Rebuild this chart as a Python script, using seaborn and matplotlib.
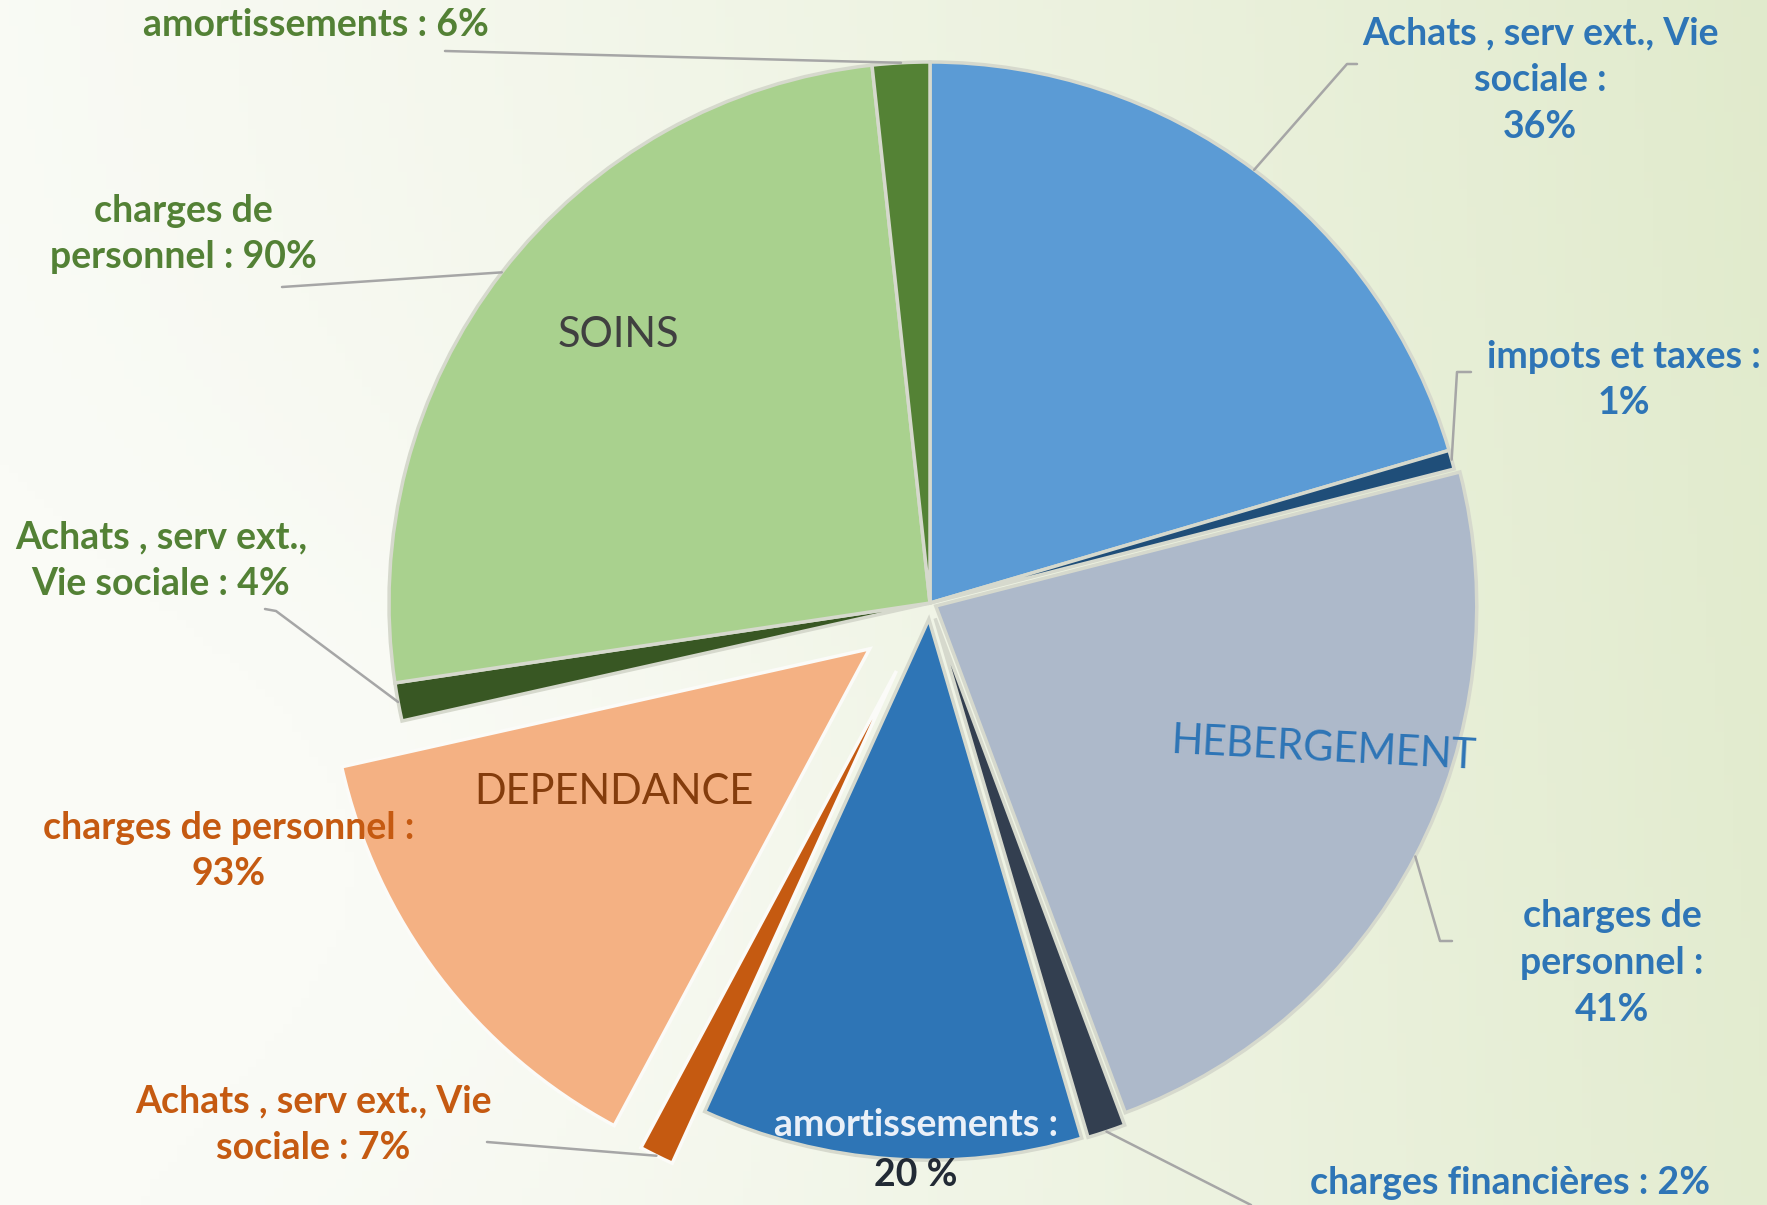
import numpy as np
import matplotlib
matplotlib.use("Agg")
import matplotlib.pyplot as plt
import seaborn as sns

# data: share of each budget section, then split inside it
sections = ["HEBERGEMENT", "DEPENDANCE", "SOINS"]
section_share = [56.8, 14.7, 28.5]

heb_items = ["Achats , serv ext., Vie\nsociale :\n36%", "impots et taxes :\n1%",
             "charges de\npersonnel :\n41%", "charges financières : 2%",
             "amortissements :"]
heb_pct = [36, 1, 41, 2, 20]
dep_items = ["Achats , serv ext., Vie\nsociale : 7%", "charges de personnel :\n93%"]
dep_pct = [7, 93]
soins_items = ["Achats , serv ext.,\nVie sociale : 4%", "charges de\npersonnel : 90%",
               "amortissements : 6%"]
soins_pct = [4, 90, 6]

heb_colors = ["#5B9BD5", "#1F4E79", "#ADB9CA", "#333F50", "#2E75B6"]
dep_colors = ["#C55A11", "#F4B183"]
soins_colors = ["#385723", "#A9D18E", "#548235"]

sns.set_theme(style="white")
plt.rcParams["font.family"] = ["Lato", "DejaVu Sans"]

W, H = 1767, 1205
fig = plt.figure(figsize=(W / 100, H / 100), dpi=100)
ax = fig.add_axes([0, 0, 1, 1])

# soft green background: greener to the right, almost white lower left
gx, gy = np.meshgrid(np.linspace(0, 1, 200), np.linspace(0, 1, 140))
t = 0.9 * gx + 0.08 * (1 - gy) - 0.2 * np.exp(-((gx - 0.2) ** 2 + (gy - 0.7) ** 2) / 0.1)
t = np.clip(t, 0, 1) ** 1.3
c0 = np.array([250, 251, 246]) / 255
c1 = np.array([224, 234, 203]) / 255
bg = c0[None, None, :] * (1 - t[..., None]) + c1[None, None, :] * t[..., None]
ax.imshow(bg, extent=(0, W, 0, H), origin="upper", aspect="auto", zorder=0)

sizes = ([p * section_share[0] / 100 for p in heb_pct]
         + [p * section_share[1] / 100 for p in dep_pct]
         + [p * section_share[2] / 100 for p in soins_pct])
colors = heb_colors + dep_colors + soins_colors

cx, cy, R = 930, H - 603, 541
# pie() takes explode in data units, so scale by the radius
explode = [e * R for e in [0, 0, 0.012, 0.03, 0.03, 0.14, 0.14, 0, 0, 0]]
wedges, _ = ax.pie(sizes, colors=colors, explode=explode, startangle=90,
                   counterclock=False, center=(cx, cy), radius=R,
                   wedgeprops=dict(edgecolor="#D6D9CD", linewidth=2.5),
                   frame=True)
for w in wedges[5:7]:
    w.set_edgecolor("#FBFBF8")
ax.set_xlim(0, W)
ax.set_ylim(0, H)
ax.set_aspect("equal")
ax.axis("off")


def img(x, y):
    return x, H - y


def anchor(w):
    a = np.deg2rad((w.theta1 + w.theta2) / 2)
    return w.center[0] + w.r * np.cos(a), w.center[1] + w.r * np.sin(a)


green, blue, orange = "#538135", "#2E75B6", "#C55A11"
lab = dict(fontsize=27, fontweight="bold", ha="center", va="center", linespacing=1.45)

# (wedge index, text, colour, text pos, leader elbow points) in image coords
labels = [
    (0, heb_items[0], blue, (1540, 80), [(1347, 64), (1357, 64)]),
    (1, heb_items[1], blue, (1624, 380), [(1457, 372), (1471, 372)]),
    (2, heb_items[2], blue, (1612, 963), [(1440, 941), (1452, 941)]),
    (3, heb_items[3], blue, (1510, 1183), [(1251, 1205)]),
    (5, dep_items[0], orange, (313, 1125), [(487, 1142)]),
    (6, dep_items[1], orange, (229, 851), None),
    (7, soins_items[0], green, (161, 561), [(276, 611), (265, 609)]),
    (8, soins_items[1], green, (183, 234), [(282, 287)]),
    (9, soins_items[2], green, (316, 25), [(445, 51)]),
]
for i, text, col, pos, elbow in labels:
    if elbow:
        pts = [anchor(wedges[i])] + [img(*p) for p in elbow]
        xs, ys = zip(*pts)
        ax.plot(xs, ys, color="#A6A6A6", lw=1.8, zorder=3)
    ax.text(*img(*pos), text, color=col, zorder=4, **lab)

# amortissements 20 % : first line on the slice, value below it
ax.text(*img(916, 1125), heb_items[4], color="#EAF0F8", zorder=4, **lab)
ax.text(*img(916, 1175), f"{heb_pct[4]} %", color="#222A35", zorder=4, **lab)

# section names inside the pie
ax.text(*img(618, 335), "SOINS", color="#404040", fontsize=30, ha="center", va="center", zorder=4)
ax.text(*img(614, 792), "DEPENDANCE", color="#843C0C", fontsize=30, ha="center", va="center", zorder=4)
ax.text(*img(1324, 749), "HEBERGEMENT", color="#2E75B6", fontsize=30, ha="center", va="center",
        rotation=-3, zorder=4)

fig.savefig("out.png", dpi=100)
